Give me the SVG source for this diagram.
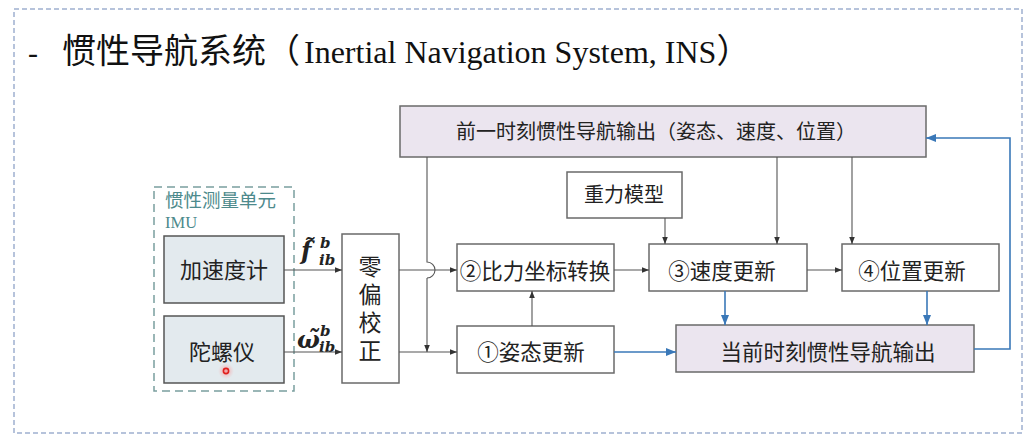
<svg xmlns="http://www.w3.org/2000/svg" width="1033" height="445" viewBox="0 0 1033 445">
<defs>
<marker id="ah" viewBox="0 0 10 10" refX="10" refY="5" markerWidth="7" markerHeight="7" markerUnits="userSpaceOnUse" orient="auto"><path d="M0,1 L10,5 L0,9 Z" fill="#333"/></marker>
<marker id="ahb" viewBox="0 0 10 10" refX="10" refY="5" markerWidth="10" markerHeight="10" markerUnits="userSpaceOnUse" orient="auto"><path d="M0,1 L10,5 L0,9 Z" fill="#3a78b8"/></marker>
<radialGradient id="glow"><stop offset="0" stop-color="#ff6b6b" stop-opacity="0.6"/><stop offset="1" stop-color="#ff9a9a" stop-opacity="0"/></radialGradient>
</defs>
<style>
.box{fill:#fff;stroke:#6a6a6a;stroke-width:1.5}
.lav{fill:#ebe5ef;stroke:#6a6a6a;stroke-width:1.5}
.imu{fill:#e3eaee;stroke:#555;stroke-width:1.5}
.t{font-family:"Noto Sans CJK SC","Noto Sans",sans-serif;fill:#222;text-anchor:middle}
.ln{fill:none;stroke:#555;stroke-width:1.1}
.bl{fill:none;stroke:#3a78b8;stroke-width:1.6}
.math{font-family:"DejaVu Serif","Liberation Serif",serif;font-style:italic;font-weight:bold;fill:#222}
</style>
<rect x="14" y="9" width="1008" height="424" fill="none" stroke="#9fb0d0" stroke-width="1.5" stroke-dasharray="5,3"/>
<g id="title">
<text x="28" y="63" font-family="Liberation Serif,serif" font-size="30" fill="#111">-</text>
<text x="62" y="63" font-family="Liberation Serif,&quot;Noto Sans CJK SC&quot;,serif" font-size="32" fill="#111"><tspan font-family="&quot;Noto Sans CJK SC&quot;,sans-serif" font-size="34">惯性导航系统（</tspan><tspan dx="4">Inertial Navigation System, INS</tspan><tspan font-family="&quot;Noto Sans CJK SC&quot;,sans-serif" font-size="34">）</tspan></text>
</g>
<g id="imu-group">
<rect x="154" y="187" width="140" height="204" fill="none" stroke="#7a9e9e" stroke-width="1.5" stroke-dasharray="8,5"/>
<text x="165" y="207" font-family="&quot;Noto Sans CJK SC&quot;,sans-serif" font-size="18.5" fill="#4d8a8c">惯性测量单元</text>
<text x="165" y="228" font-family="Liberation Serif,serif" font-size="16.5" fill="#4d8a8c">IMU</text>
</g>
<g id="accel"><rect class="imu" x="164" y="236" width="120" height="67"/><text class="t" x="224" y="278" font-size="22">加速度计</text></g>
<g id="gyro"><rect class="imu" x="164" y="316" width="120" height="67"/><text class="t" x="222" y="360" font-size="22">陀螺仪</text>
<circle cx="226" cy="371" r="8" fill="url(#glow)"/><circle cx="226" cy="371" r="2.6" fill="none" stroke="#e0201e" stroke-width="1.6"/></g>
<g id="bias"><rect class="box" x="342" y="234" width="57" height="149"/>
<text x="370" y="255" font-family="&quot;Noto Sans CJK SC&quot;,sans-serif" fill="#222" font-size="23" writing-mode="vertical-rl" letter-spacing="5">零偏校正</text></g>
<g id="prev"><rect class="lav" x="400" y="106" width="526" height="51"/><text class="t" x="656" y="139" font-size="20">前一时刻惯性导航输出（姿态、速度、位置）</text></g>
<g id="gravity"><rect class="box" x="567" y="172" width="115" height="46"/><text class="t" x="624" y="202" font-size="20">重力模型</text></g>
<g id="n2"><rect class="box" x="457" y="244" width="157" height="47"/><text class="t" x="535" y="279" font-size="21.5">②比力坐标转换</text></g>
<g id="n1"><rect class="box" x="457" y="326" width="157" height="47"/><text class="t" x="531" y="360" font-size="21.5">①姿态更新</text></g>
<g id="n3"><rect class="box" x="649" y="244" width="158" height="47"/><text class="t" x="722" y="279" font-size="21.5">③速度更新</text></g>
<g id="n4"><rect class="box" x="842" y="244" width="157" height="47"/><text class="t" x="912" y="279" font-size="21.5">④位置更新</text></g>
<g id="cur"><rect class="lav" x="676" y="325" width="298" height="47"/><text class="t" x="828" y="360" font-size="21.5">当前时刻惯性导航输出</text></g>
<g id="labels">
<text class="math" font-size="24"><tspan x="301" y="259">f̃</tspan><tspan x="320" y="248" font-size="15">b</tspan><tspan x="319" y="265" font-size="15">ib</tspan></text>
<text class="math" font-size="24"><tspan x="297" y="348">ω̃</tspan><tspan x="320" y="336" font-size="15">b</tspan><tspan x="319" y="352" font-size="15">ib</tspan></text>
</g>
<g id="connectors">
<line class="ln" x1="284" y1="270" x2="342" y2="270" marker-end="url(#ah)"/>
<line class="ln" x1="284" y1="352" x2="342" y2="352" marker-end="url(#ah)"/>
<line class="ln" x1="399" y1="270" x2="457" y2="270" marker-end="url(#ah)"/>
<line class="ln" x1="399" y1="352" x2="457" y2="352" marker-end="url(#ah)"/>
<path class="ln" d="M427,157 V262 A8,8 0 0 1 427,278" />
<path class="ln" d="M427,278 V352" marker-end="url(#ah)"/>
<line class="ln" x1="532" y1="326" x2="532" y2="291" marker-end="url(#ah)"/>
<line class="ln" x1="614" y1="270" x2="649" y2="270" marker-end="url(#ah)"/>
<line class="ln" x1="807" y1="270" x2="842" y2="270" marker-end="url(#ah)"/>
<line class="ln" x1="665" y1="218" x2="665" y2="244" marker-end="url(#ah)"/>
<line class="ln" x1="777" y1="157" x2="777" y2="244" marker-end="url(#ah)"/>
<line class="ln" x1="852" y1="157" x2="852" y2="244" marker-end="url(#ah)"/>
<line class="bl" x1="725" y1="291" x2="725" y2="325" marker-end="url(#ahb)"/>
<line class="bl" x1="927" y1="291" x2="927" y2="325" stroke="#6e9cc8" marker-end="url(#ahb)"/>
<line class="bl" x1="614" y1="352" x2="676" y2="352" stroke="#5a8cc0" marker-end="url(#ahb)"/>
<path class="bl" d="M974,349 H1010 V138 H926" stroke="#7aa6d0" stroke-width="1.3" marker-end="url(#ahb)"/>
</g>
</svg>
